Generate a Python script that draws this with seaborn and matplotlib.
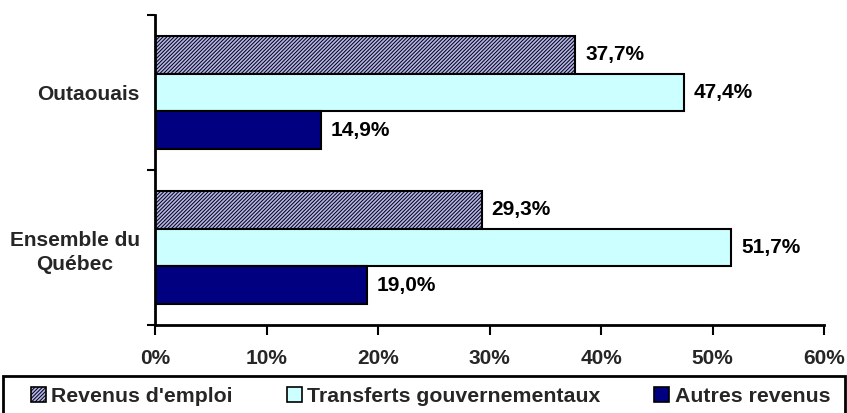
import matplotlib
matplotlib.use("Agg")
import matplotlib.pyplot as plt
import seaborn as sns
import pandas as pd
from matplotlib.patches import Patch, Rectangle

regions = ["Outaouais", "Ensemble du\nQuébec"]
series = ["Revenus d'emploi", "Transferts gouvernementaux", "Autres revenus"]
emploi = [37.7, 29.3]
transferts = [47.4, 51.7]
autres = [14.9, 19.0]
xticks = [0, 10, 20, 30, 40, 50, 60]

colors = ["#b4b4f0", "#ccffff", "#000080"]

sns.set_theme(style="white")
plt.rcParams['font.family'] = ['Liberation Sans', 'DejaVu Sans']
plt.rcParams['font.weight'] = 'bold'
plt.rcParams['hatch.color'] = '#000080'
plt.rcParams['hatch.linewidth'] = 0.7

rows = []
for s, vals in zip(series, [emploi, transferts, autres]):
    for r, v in zip(regions, vals):
        rows.append({"Région": r, "Série": s, "Valeur": v})
df = pd.DataFrame(rows)

W, H = 847, 413
fig = plt.figure(figsize=(W / 100, H / 100), dpi=100)
ax = fig.add_axes([155 / W, 1 - 325 / H, (824 - 155) / W, (325 - 15) / H])

sns.barplot(data=df, y="Région", x="Valeur", hue="Série", hue_order=series,
            order=regions, palette=colors, orient="h", width=0.73,
            edgecolor="black", linewidth=1.5, ax=ax, legend=False, saturation=1)

HATCH = "/////////"
for i, cont in enumerate(ax.containers):
    for bar in cont:
        if i == 0:
            bar.set_hatch(HATCH)
    labels = [f"{v:.1f}%".replace(".", ",") for v in cont.datavalues]
    ax.bar_label(cont, labels=labels, padding=7, fontsize=15, fontweight="bold",
                 color="black")

ax.set_xlim(0, 60)
ax.set_ylim(1.5, -0.5)
ax.set_xticks(xticks)
ax.set_xticklabels([f"{t}%" for t in xticks], fontsize=15, fontweight="bold")
ax.set_yticks([-0.5, 0.5, 1.5])
ax.set_yticklabels([])
ax.set_yticks([0, 1], minor=True)
ax.set_yticklabels(regions, minor=True, fontsize=15, fontweight="bold",
                   ha="right", multialignment="center", linespacing=1.35)
ax.tick_params(axis="y", which="minor", length=0, pad=11)
ax.tick_params(axis="y", which="major", length=6, width=1.5, direction="out", left=True, color="black")
ax.tick_params(axis="x", length=7, width=1.5, direction="out", bottom=True, pad=10, color="black")
ax.set_xlabel("")
ax.set_ylabel("")
for s in ["top", "right"]:
    ax.spines[s].set_visible(False)
for s in ["left", "bottom"]:
    ax.spines[s].set_color("black")
    ax.spines[s].set_linewidth(2)

# legend frame
fig.patches.append(Rectangle((3 / W, 1 - 415 / H), (845 - 3) / W, (415 - 376) / H,
                             transform=fig.transFigure, fill=False, edgecolor="black",
                             linewidth=2))

handles = [Patch(facecolor=colors[0], edgecolor="black", hatch=HATCH, linewidth=1.2),
           Patch(facecolor=colors[1], edgecolor="black", linewidth=1.2),
           Patch(facecolor=colors[2], edgecolor="black", linewidth=1.2)]
leg = fig.legend(handles, series, loc="center left", ncol=3, mode="expand",
                 bbox_to_anchor=(31 / W, 1 - 396 / H, (830 - 31) / W, 0.0),
                 frameon=False, prop={"weight": "bold", "size": 15.3},
                 handlelength=0.7, handleheight=0.7, handletextpad=0.25,
                 borderaxespad=0, borderpad=0, columnspacing=1.0)

fig.savefig("out.png", dpi=100)
